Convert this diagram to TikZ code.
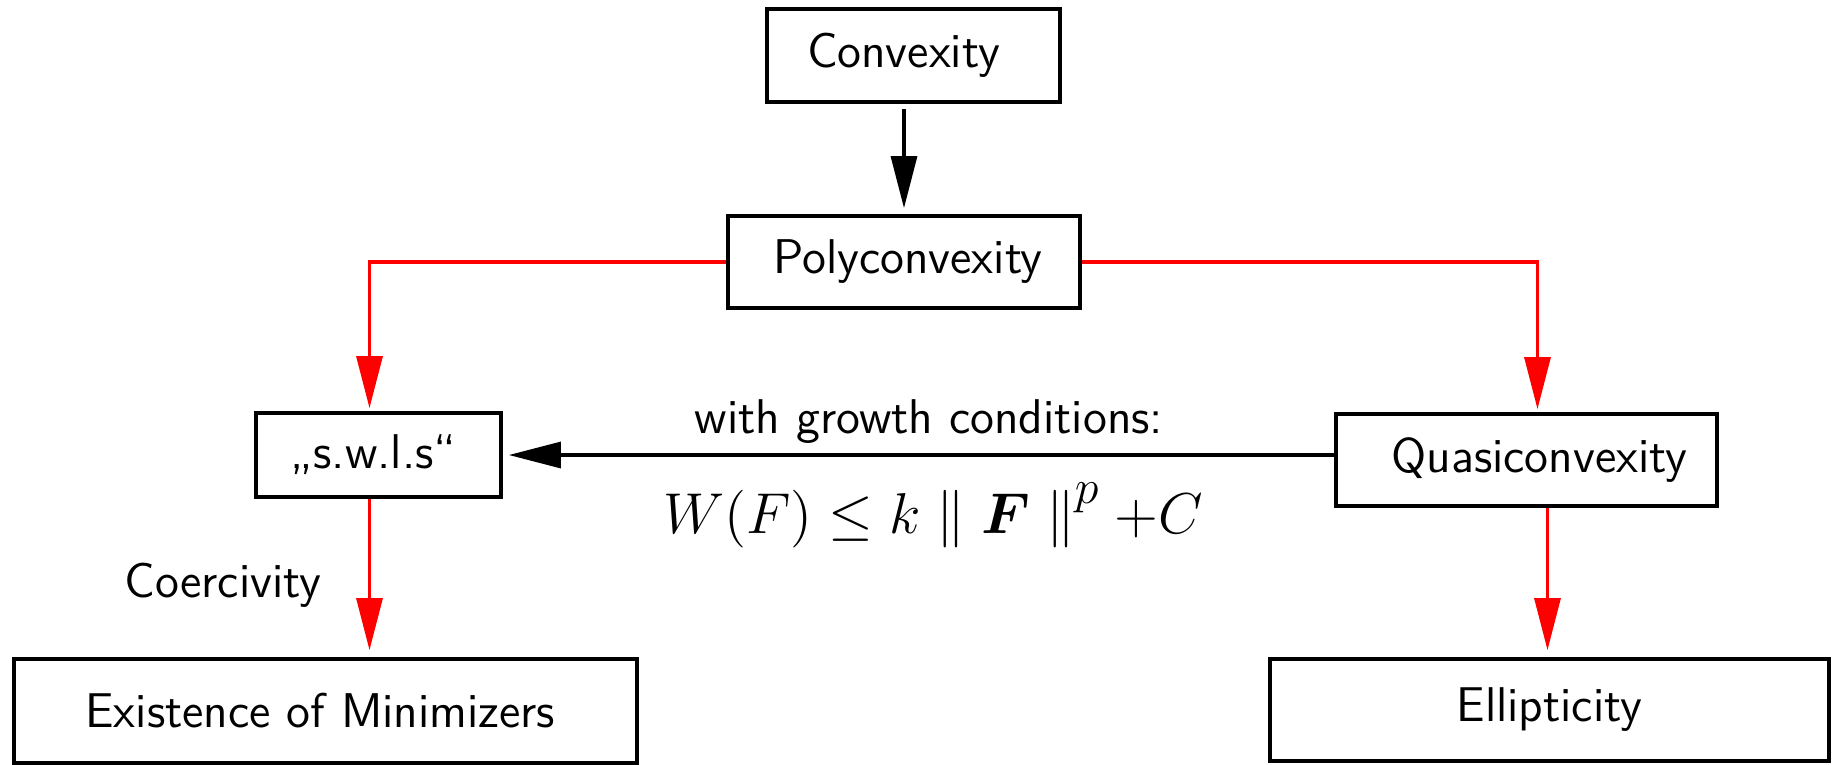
\documentclass[tikz,border=0pt]{standalone}
\usepackage{amsmath}
\usetikzlibrary{arrows.meta}
\tikzset{
  box/.style={draw, line width=0.95pt, inner sep=0pt, font=\fontsize{12.2}{14}\selectfont\sffamily},
  lbl/.style={inner sep=0pt, font=\fontsize{12.2}{14}\selectfont\sffamily},
  blackarrow/.style={draw=black, line width=0.8pt, -{Triangle[length=13pt,width=6.5pt]}},
  redarrow/.style={draw=red, line width=0.8pt, -{Triangle[length=13pt,width=6.5pt]}},
}
\begin{document}
\begin{tikzpicture}[x=0.25pt, y=-0.25pt]
\useasboundingbox (0,0) rectangle (1835,764);
\node[box, minimum width=73.25pt, minimum height=23.25pt] (conv) at (913.5,55.5) {Convexity\hspace*{5pt}};
\node[box, minimum width=88pt, minimum height=23pt] (poly) at (904,262) {\hspace*{2pt}Polyconvexity};
\node[box, minimum width=61.25pt, minimum height=21pt] (swls) at (378.5,455) {„s.w.l.s“\hspace*{2.5pt}};
\node[box, minimum width=95.25pt, minimum height=23pt] (quasi) at (1526.5,460) {\hspace*{6.5pt}Quasiconvexity};
\node[box, minimum width=155.75pt, minimum height=26pt] (exist) at (325.5,711) {Existence of Minimizers\hspace*{2.6pt}};
\node[box, minimum width=139.75pt, minimum height=25.5pt] (ellip) at (1549.5,710) {Ellipticity};
\node[lbl, anchor=base] (growth) at (929,433) {with growth conditions:};
\node[lbl, anchor=base, font=\fontsize{13.3}{16}\selectfont] (formula) at (933,533) {$W(F) \leq k \parallel \boldsymbol{F} \mathrel{\hbox{$\parallel$\raisebox{7.5pt}{\fontsize{12.5}{14}\selectfont$p$}}} +C$};
\node[lbl, anchor=base] (coerc) at (223,597) {Coercivity};
\draw[blackarrow, shorten <=1.25pt, shorten >=1.5pt] (poly.north |- conv.south) -- (poly.north);
\draw[redarrow, shorten >=0.75pt] (poly.west) -| ([xshift=-2.25pt]swls.north);
\draw[redarrow, shorten >=0.75pt] (poly.east) -| ([xshift=2.75pt]quasi.north);
\draw[blackarrow, shorten >=1.5pt] (quasi.west |- swls.east) -- (swls.east);
\draw[redarrow, shorten >=1.75pt] ([xshift=-2.25pt]swls.south) -- ([xshift=-2.25pt]swls.south |- exist.north);
\draw[redarrow, shorten >=1.75pt] ([xshift=5.25pt]quasi.south) -- ([xshift=5.25pt]quasi.south |- ellip.north);
\end{tikzpicture}
\end{document}
